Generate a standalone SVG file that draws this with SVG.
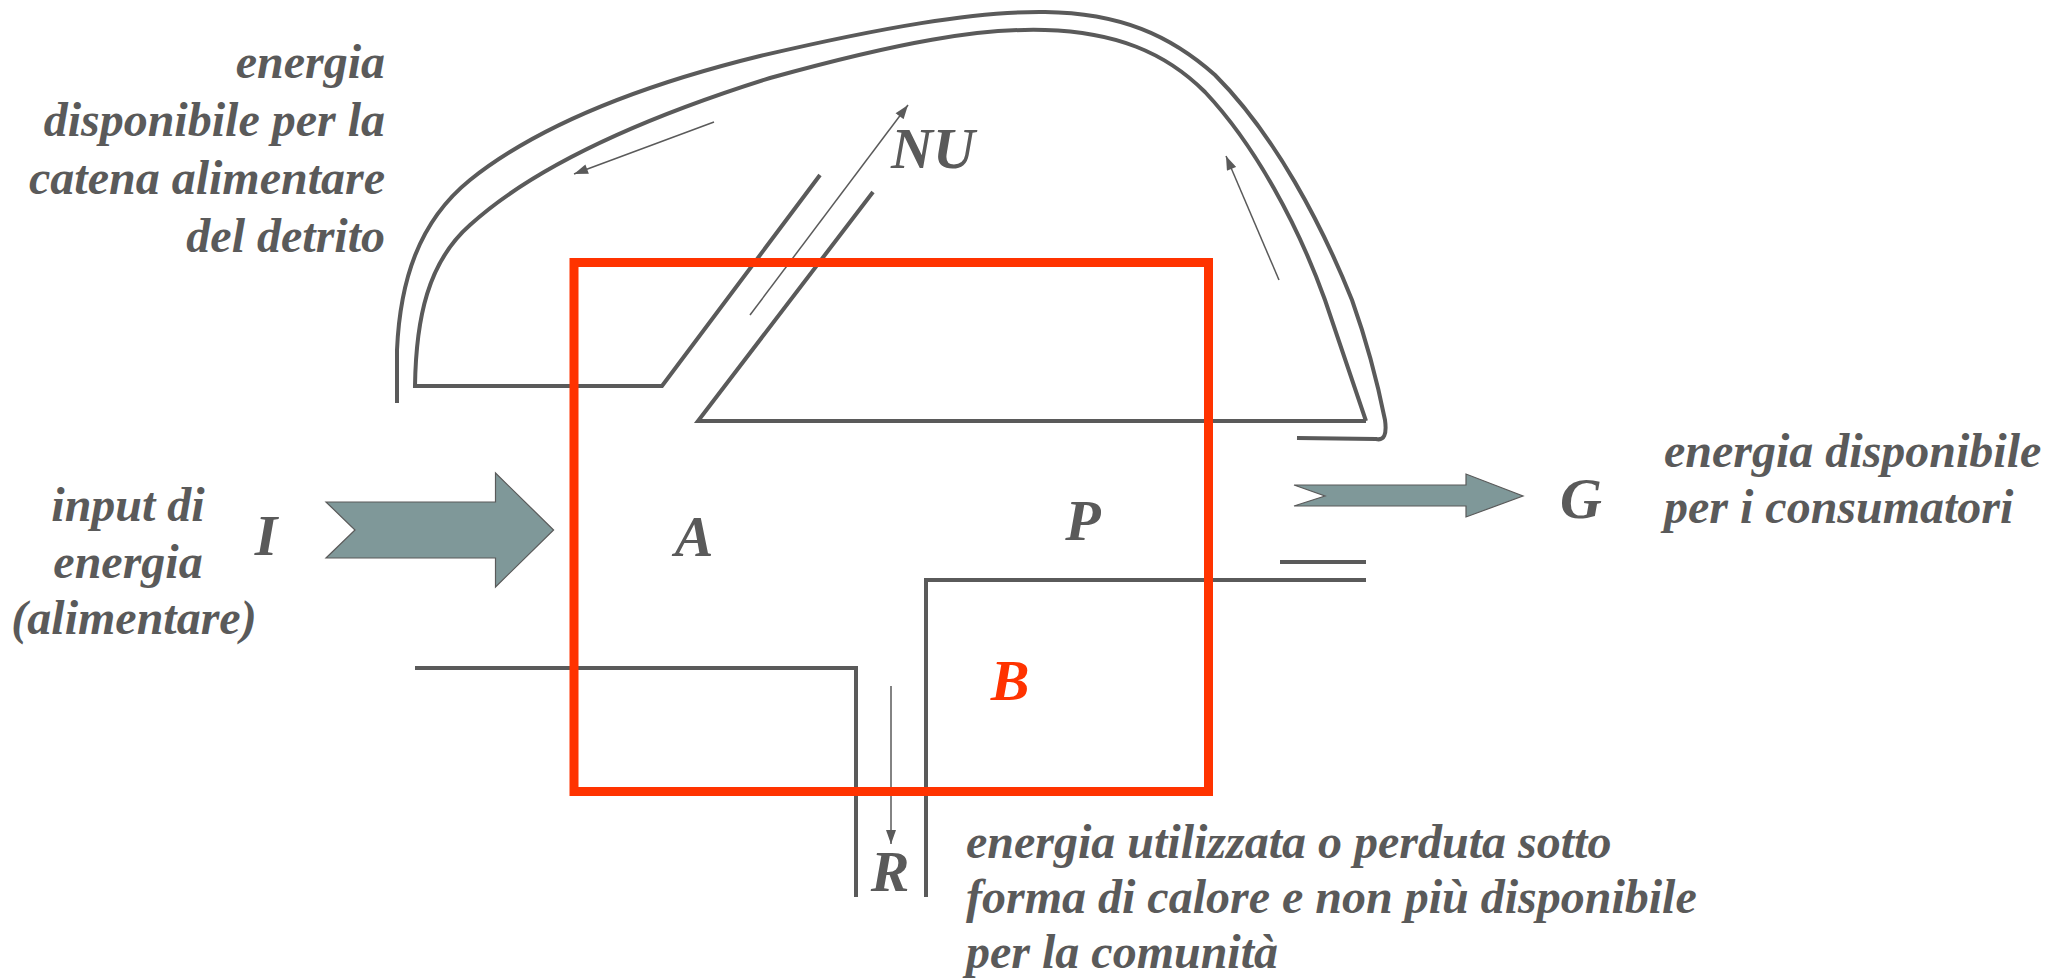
<svg xmlns="http://www.w3.org/2000/svg" width="2069" height="980" viewBox="0 0 2069 980">
<style>
.ln{fill:none;stroke:#5a5a5a;stroke-width:4;stroke-linejoin:miter}
.thin{fill:none;stroke:#5a5a5a;stroke-width:1.5}
.blk{fill:#7f9899;stroke:#5a5a5a;stroke-width:1.2}
</style>
<defs>
<marker id="ah2" viewBox="0 0 14 10" refX="14" refY="5" markerWidth="15" markerHeight="10" markerUnits="userSpaceOnUse" orient="auto">
<path d="M0,0 L14,5 L0,10 Z" fill="#5a5a5a"/>
</marker>
</defs>
<rect width="2069" height="980" fill="#ffffff"/>
<g id="connectors">
<path class="ln" d="M397 403 L397 350 C400 282 418 222 470 180 C535 128 630 88 760 56 C880 28 975 11 1045 12 C1120 13 1170 35 1215 75 C1275 135 1322 225 1352 300 C1368 345 1378 385 1385 420 Q1388 442 1376 439 L1297 438"/>
<path class="ln" d="M820 175 L662 386 L415 386 C416 318 428 262 470 225 C525 175 620 125 770 78 C900 42 980 28 1045 30 C1115 32 1165 52 1205 92 C1255 145 1298 225 1325 300 L1366 421"/>
<path class="ln" d="M873 192 L698 421 L1366 421"/>
<path class="ln" d="M415 668 L856 668 L856 897"/>
<path class="ln" d="M926 897 L926 580 L1366 580"/>
<path class="ln" d="M1280 562 L1366 562"/>
<line class="thin" x1="750" y1="315" x2="908" y2="105" marker-end="url(#ah2)"/>
<line class="thin" x1="714" y1="122" x2="574" y2="174" marker-end="url(#ah2)"/>
<line class="thin" x1="1279" y1="280" x2="1226" y2="156" marker-end="url(#ah2)"/>
<line class="thin" x1="891" y1="686" x2="891" y2="844" marker-end="url(#ah2)"/>
<polygon class="blk" points="326,502 495.5,502 495.5,473 553.6,530 495.5,587 495.5,558 326,558 355,530"/>
<polygon class="blk" points="1294,485 1466,485 1466,474 1523,496 1466,517 1466,506 1294,506 1325,496"/>
</g>
<g id="node-B-box">
<rect x="574" y="262.5" width="634.5" height="529" fill="none" stroke="#ff3300" stroke-width="9"/>
</g>
<g font-family="Liberation Serif, serif" font-style="italic" font-weight="bold" fill="#5a5a5a">
<g id="node-detrito">
<text font-size="48" text-anchor="end"><tspan x="385" y="78">energia</tspan><tspan x="385" y="136">disponibile per la</tspan><tspan x="385" y="194">catena alimentare</tspan><tspan x="385" y="252">del detrito</tspan></text>
</g>
<g id="node-input">
<text font-size="48" text-anchor="middle"><tspan x="128" y="521">input di</tspan><tspan x="128" y="578">energia</tspan><tspan x="134" y="634">(alimentare)</tspan></text>
</g>
<g id="node-I"><text font-size="58" text-anchor="middle" x="266" y="555">I</text></g>
<g id="node-A"><text font-size="58" text-anchor="middle" x="694" y="556">A</text></g>
<g id="node-P"><text font-size="58" text-anchor="middle" x="1083" y="540">P</text></g>
<g id="node-NU"><text font-size="58" text-anchor="middle" x="933" y="168">NU</text></g>
<g id="node-G"><text font-size="58" text-anchor="middle" x="1581" y="518">G</text></g>
<g id="node-R"><text font-size="58" text-anchor="middle" x="890" y="891">R</text></g>
<g id="node-B"><text font-size="58" text-anchor="middle" x="1010" y="700" fill="#ff3300">B</text></g>
<g id="node-consumatori">
<text font-size="48"><tspan x="1664" y="467">energia disponibile</tspan><tspan x="1664" y="523">per i consumatori</tspan></text>
</g>
<g id="node-calore">
<text font-size="48"><tspan x="966" y="858">energia utilizzata o perduta sotto</tspan><tspan x="966" y="913">forma di calore e non più disponibile</tspan><tspan x="966" y="968">per la comunità</tspan></text>
</g>
</g>
</svg>
